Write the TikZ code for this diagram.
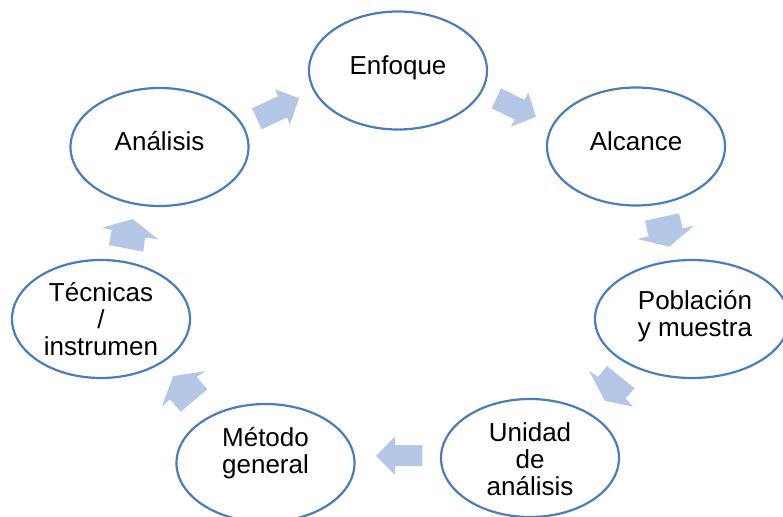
\documentclass[tikz,border=0pt]{standalone}
\usepackage{fontspec}
\setmainfont{Liberation Sans}
\usetikzlibrary{shapes.geometric}
\definecolor{ringblue}{RGB}{74,126,187}
\definecolor{arrowblue}{RGB}{180,199,231}
\begin{document}
\begin{tikzpicture}[x=1pt,y=-1pt,
  bubble/.style={draw=ringblue,line width=2.2pt,ellipse,inner sep=0pt,
                 minimum width=178pt,minimum height=118pt},
  widebubble/.style={bubble,minimum width=194pt},
  lbl/.style={align=center,font=\fontsize{26}{27}\selectfont,inner sep=0pt},
  blockarrow/.style={fill=arrowblue,draw=none}]
\useasboundingbox (0,0) rectangle (783,516);
\clip (0,0) rectangle (783,516);

% ellipses
\node[bubble] (enfoque) at (398,70.5) {};
\node[bubble] (alcance) at (636,146.5) {};
\node[widebubble] (poblacion) at (692,319) {};
\node[bubble] (unidad) at (530,458) {};
\node[bubble] (metodo) at (265.5,463) {};
\node[bubble] (tecnicas) at (101,319) {};
\node[bubble] (analisis) at (159.5,147) {};

% labels
\node[lbl] (tenfoque) at ([yshift=3.2pt]enfoque.center) {Enfoque};
\node[lbl] (talcance) at ([yshift=5.3pt]alcance.center) {Alcance};
\node[lbl] (tpoblacion) at ([xshift=3pt,yshift=3pt]poblacion.center) {Población\\y muestra};
\node[lbl] (tunidad) at ([yshift=-1pt]unidad.center) {Unidad\\de\\análisis};
\node[lbl] (tmetodo) at ([yshift=9.5pt]metodo.center) {Método\\general};
\node[lbl] (ttecnicas) at ([yshift=0pt]tecnicas.center) {Técnicas\\/\\instrumen};
\node[lbl] (tanalisis) at ([yshift=5.8pt]analisis.center) {Análisis};

% block arrows
\fill[blockarrow] (252,108.3) -- (278,96.2) -- (275,89.3) -- (299,98.3) -- (290,124.3) -- (287,117.4) -- (261.7,129.3) -- cycle;
\fill[blockarrow] (501,88.3) -- (524.6,99.9) -- (528.3,92.7) -- (536,116.7) -- (511,126.7) -- (514.6,119.5) -- (491.7,108.3) -- cycle;
\fill[blockarrow] (645,220.7) -- (648.6,236.3) -- (637.3,239) -- (669.3,246.7) -- (694,225.7) -- (682.7,228.4) -- (679,213.3) -- cycle;
\fill[blockarrow] (607,366) -- (598,377) -- (589,370.7) -- (604.7,400.7) -- (633,406.7) -- (625.7,398.3) -- (634.7,388.3) -- cycle;
\fill[blockarrow] (422.3,445) -- (395,445) -- (395,436.7) -- (376,455.8) -- (395,475) -- (395,466) -- (422.3,466) -- cycle;
\fill[blockarrow] (180.7,411.7) -- (170,399.3) -- (161.7,406.7) -- (173.3,376) -- (206,371) -- (196.6,376.9) -- (207.3,389.3) -- cycle;
\fill[blockarrow] (109,245) -- (111.7,230) -- (102.3,227.7) -- (132.7,219) -- (158.3,239.3) -- (145,237.7) -- (143.3,251.7) -- cycle;
\end{tikzpicture}
\end{document}
